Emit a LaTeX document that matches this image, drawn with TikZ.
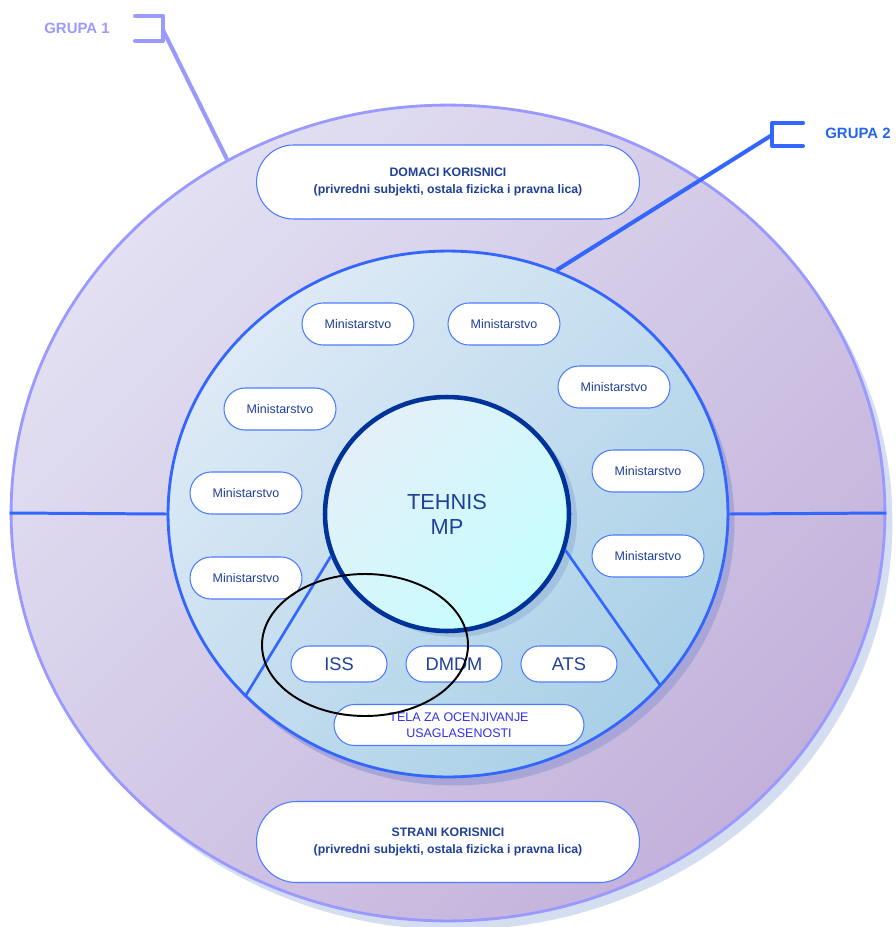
\documentclass[tikz,border=0pt]{standalone}
\usepackage{fontspec}
\setmainfont{Liberation Sans}
\usetikzlibrary{shapes.geometric, shadows}

\definecolor{outerline}{HTML}{9999FF}
\definecolor{ringline}{HTML}{3366FF}
\definecolor{coreline}{HTML}{003399}
\definecolor{boxline}{HTML}{4D7BFF}
\definecolor{textblue}{HTML}{1F3F99}
\definecolor{telablue}{HTML}{3030EE}
\definecolor{grupatwo}{HTML}{2266EE}
\definecolor{outertop}{HTML}{E2E0F2}
\definecolor{outerbottom}{HTML}{C3B1DB}
\definecolor{outershadow}{HTML}{D5DEF0}
\definecolor{ringtop}{HTML}{DEEAF6}
\definecolor{ringbottom}{HTML}{A9D0E7}
\definecolor{ringshadow}{HTML}{A8A6D6}
\definecolor{coretop}{HTML}{E4EFF8}
\definecolor{corebottom}{HTML}{C6FEFF}
\definecolor{coreshadow}{HTML}{A3C2E0}

\tikzset{
  ministry/.style={draw=boxline, line width=0.6pt, fill=white, rounded corners=0.42cm,
    minimum width=2.24cm, minimum height=0.84cm, inner sep=0pt, text=textblue,
    font=\fontsize{7.1}{8}\selectfont},
  unit/.style={draw=boxline, line width=0.6pt, fill=white, rounded corners=0.36cm,
    minimum width=1.92cm, minimum height=0.72cm, inner sep=0pt, text=textblue,
    font=\fontsize{10.4}{12}\selectfont},
  users/.style={draw=boxline, line width=0.6pt, fill=white, rounded corners=0.74cm,
    minimum width=7.66cm, inner sep=0pt, align=center, text=textblue,
    font=\fontsize{7}{9.5}\selectfont\bfseries},
  grupa/.style={font=\fontsize{8.5}{10}\selectfont\bfseries},
  bracket/.style={line width=2.3pt, line cap=round, line join=round}
}

\begin{document}
\begin{tikzpicture}[x=0.02cm, y=-0.02cm]
\clip (0,0) rectangle (896,927);

\node[ellipse, minimum width=17.48cm, minimum height=16.32cm, draw=outerline, line width=1.6pt,
  top color=outertop, bottom color=outerbottom, shading angle=45,
  drop shadow={shadow xshift=0.15cm, shadow yshift=-0.18cm, fill=outershadow, opacity=1}]
  (outer) at (448,513) {};

\node[ellipse, minimum width=11.2cm, minimum height=10.52cm, draw=ringline, line width=1.6pt,
  top color=ringtop, bottom color=ringbottom, shading angle=45,
  drop shadow={shadow xshift=0.13cm, shadow yshift=-0.17cm, fill=ringshadow, opacity=1}]
  (ring) at (448,514) {};

\draw[ringline, line width=1.7pt] (ring.west) -- (outer.west);
\draw[ringline, line width=1.7pt] (ring.east) -- (outer.east);

\node[ellipse, minimum width=4.88cm, minimum height=4.68cm, draw=coreline, line width=2.6pt,
  top color=coretop, bottom color=corebottom, shading angle=45, align=center, text=textblue,
  font=\fontsize{12.4}{14.2}\selectfont,
  drop shadow={shadow xshift=0.16cm, shadow yshift=-0.12cm, fill=coreshadow, opacity=1}]
  (tehnis) at (447,514) {TEHNIS\\MP};

\draw[ringline, line width=1.5pt] (tehnis.200) -- (ring.222);
\draw[ringline, line width=1.5pt] (tehnis.-17) -- (ring.-39);

\foreach \x/\y [count=\i] in {358/324, 504/324, 614/387, 280/409, 648/471, 246/493, 648/556, 246/578}
  \node[ministry] (min\i) at (\x,\y) {Ministarstvo};

\node[unit] (iss) at (339,664) {ISS};
\node[unit] (dmdm) at (454,664) {DMDM};
\node[unit] (ats) at (569,664) {ATS};
\node[ministry, minimum width=5cm, minimum height=0.82cm, rounded corners=0.41cm, align=center,
  text=telablue, font=\fontsize{7.1}{9}\selectfont] (tela) at (459,725) {TELA ZA OCENJIVANJE\\USAGLASENOSTI};

\node[users, minimum height=1.48cm] (domaci) at (448,182)
  {DOMACI KORISNICI\\(privredni subjekti, ostala fizicka i pravna lica)};
\node[users, minimum height=1.62cm, rounded corners=0.8cm] (strani) at (448,842)
  {STRANI KORISNICI\\(privredni subjekti, ostala fizicka i pravna lica)};

\draw[line width=1.1pt] (365,645) ellipse (103 and 71);

\node[grupa, text=outerline] (grupa1) at (77,28) {GRUPA 1};
\draw[outerline, bracket] (135,16) -- (163,16) -- (163,41) -- (135,41);
\coordinate (g1) at (163,30);
\draw[outerline, line width=2.3pt] (g1) -- (outer.122);

\node[grupa, text=grupatwo] (grupa2) at (858,133) {GRUPA 2};
\draw[ringline, bracket] (803,123) -- (772,123) -- (772,146) -- (803,146);
\coordinate (g2) at (772,135);
\draw[ringline, line width=2.3pt] (g2) -- (ring.66);
\end{tikzpicture}
\end{document}
